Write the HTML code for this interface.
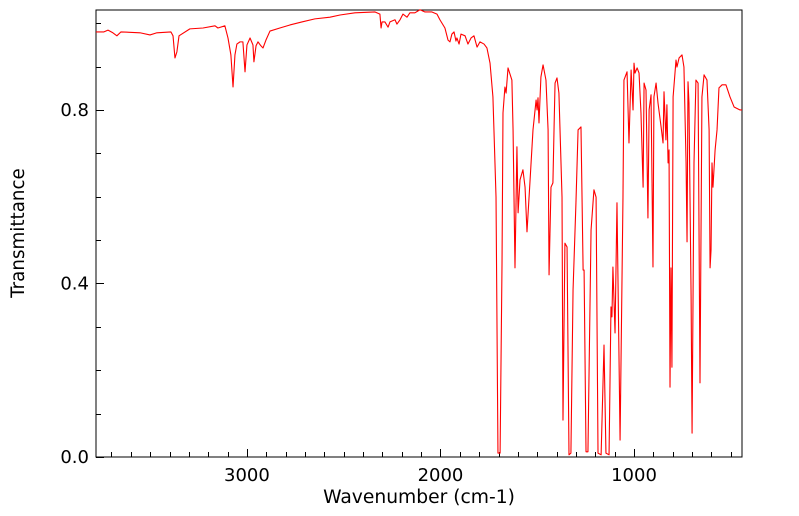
<!DOCTYPE html>
<html><head><meta charset="utf-8"><style>
html,body{margin:0;padding:0;background:#fff;}
svg{display:block;font-family:"DejaVu Sans","Liberation Sans",sans-serif;}
</style></head><body>
<svg id="chart" width="799" height="516" viewBox="0 0 799 516" xmlns="http://www.w3.org/2000/svg">
<rect x="96" y="10" width="646" height="447" fill="none" stroke="#000" stroke-width="1"/>
<g id="ticks"></g>
<g id="labels"></g>
<path id="spectrum" fill="none" stroke="#ff0000" stroke-width="1.1" stroke-linejoin="round"/>
<text x="419" y="503" font-size="18.7" text-anchor="middle">Wavenumber (cm-1)</text>
<text x="0" y="0" font-size="18.3" text-anchor="middle" transform="translate(24,233) rotate(-90)">Transmittance</text>
</svg>
<script>
const wavenumbers=[3780,3739,3718,3693,3672,3651,3553,3501,3465,3393,3382,3372,3362,3351,3295,3227,3165,3150,3114,3098,3083,3072,3062,3052,3036,3021,3010,3000,2984,2969,2964,2953,2943,2928,2917,2902,2881,2830,2778,2716,2649,2571,2519,2442,2338,2313,2307,2302,2287,2271,2261,2235,2225,2209,2194,2173,2158,2132,2106,2080,2044,2018,2003,1977,1961,1951,1941,1930,1920,1915,1904,1894,1873,1858,1842,1827,1811,1796,1775,1760,1744,1729,1713,1703,1692,1682,1677,1667,1661,1651,1631,1625,1615,1605,1599,1589,1574,1563,1553,1537,1522,1506,1501,1496,1491,1481,1470,1455,1444,1439,1429,1419,1413,1408,1398,1388,1372,1367,1357,1346,1336,1326,1315,1300,1289,1274,1263,1258,1248,1238,1222,1207,1196,1186,1170,1155,1145,1129,1119,1114,1109,1098,1088,1072,1057,1052,1036,1026,1015,1005,1000,995,984,974,964,953,948,938,928,922,912,902,897,886,876,860,850,845,835,830,824,819,814,809,804,798,783,778,767,752,742,731,726,721,716,705,700,690,680,669,659,649,638,623,612,607,602,597,592,581,571,561,545,525,504,483,452,442];
const transmittance=[0.980,0.980,0.984,0.978,0.971,0.980,0.978,0.973,0.978,0.980,0.971,0.920,0.934,0.971,0.987,0.989,0.994,0.989,0.994,0.966,0.927,0.853,0.927,0.952,0.957,0.957,0.888,0.950,0.966,0.950,0.911,0.948,0.957,0.948,0.943,0.961,0.982,0.989,0.996,1.003,1.010,1.014,1.019,1.024,1.026,1.021,0.989,1.003,1.003,0.991,1.003,1.008,0.998,1.008,1.021,1.014,1.024,1.024,1.031,1.026,1.026,1.021,1.008,0.989,0.961,0.957,0.975,0.980,0.959,0.966,0.952,0.975,0.971,0.952,0.966,0.971,0.945,0.957,0.952,0.943,0.908,0.830,0.599,0.009,0.009,0.447,0.793,0.853,0.839,0.897,0.869,0.754,0.436,0.715,0.563,0.639,0.662,0.622,0.519,0.639,0.754,0.823,0.800,0.828,0.770,0.876,0.904,0.869,0.754,0.420,0.622,0.632,0.761,0.862,0.874,0.839,0.599,0.085,0.493,0.484,0.005,0.009,0.385,0.586,0.754,0.761,0.431,0.431,0.012,0.012,0.523,0.616,0.599,0.009,0.005,0.258,0.009,0.005,0.346,0.323,0.438,0.286,0.586,0.039,0.599,0.869,0.888,0.724,0.892,0.800,0.908,0.885,0.897,0.885,0.793,0.622,0.862,0.846,0.551,0.800,0.835,0.438,0.830,0.862,0.816,0.761,0.724,0.842,0.731,0.812,0.678,0.708,0.161,0.436,0.207,0.830,0.915,0.899,0.920,0.927,0.899,0.678,0.496,0.865,0.816,0.369,0.055,0.678,0.869,0.862,0.171,0.830,0.881,0.869,0.754,0.436,0.477,0.678,0.622,0.708,0.754,0.851,0.858,0.858,0.830,0.807,0.800,0.800];
const xTickLabels=[3000,2000,1000];
const yTickLabels=[0.0,0.4,0.8];

const X0=96,X1=742,Y0=10,Y1=457;
const WN_LEFT=3780,WN_RIGHT=442,T_MIN=0,T_MAX=1.0305;
function xs(w){return X0+(WN_LEFT-w)/(WN_LEFT-WN_RIGHT)*(X1-X0);}
function ys(t){return Y1-(t-T_MIN)/(T_MAX-T_MIN)*(Y1-Y0);}
const NS="http://www.w3.org/2000/svg";
let d="";
for(let i=0;i<wavenumbers.length;i++){d+=(i?"L":"M")+xs(wavenumbers[i]).toFixed(2)+","+ys(transmittance[i]).toFixed(2);}
document.getElementById("spectrum").setAttribute("d",d);
const tg=document.getElementById("ticks"),lg=document.getElementById("labels");
function line(x1,y1,x2,y2){const l=document.createElementNS(NS,"line");l.setAttribute("x1",x1);l.setAttribute("y1",y1);l.setAttribute("x2",x2);l.setAttribute("y2",y2);l.setAttribute("stroke","#000");l.setAttribute("stroke-width","1");


tg.appendChild(l);}
for(let w=500;w<=3700;w+=100){const x=Math.round(xs(w))+0.5;const major=w%1000===0;line(x,Y1,x,Y1-(major?8:5));}
for(let k=0;k<=10;k++){const t=k/10;const y=Math.round(ys(t))+0.5;const major=k%4===0;line(X0,y,X0+(major?8:5),y);}
xTickLabels.forEach(v=>{const t=document.createElementNS(NS,"text");t.setAttribute("x",xs(v));t.setAttribute("y",481);t.setAttribute("font-size","18");t.setAttribute("text-anchor","middle");t.textContent=String(v);


lg.appendChild(t);});
yTickLabels.forEach(v=>{const t=document.createElementNS(NS,"text");t.setAttribute("x",89);t.setAttribute("y",ys(v)+6);t.setAttribute("font-size","18");t.setAttribute("text-anchor","end");t.textContent=v.toFixed(1);


lg.appendChild(t);});
</script>
</body></html>
